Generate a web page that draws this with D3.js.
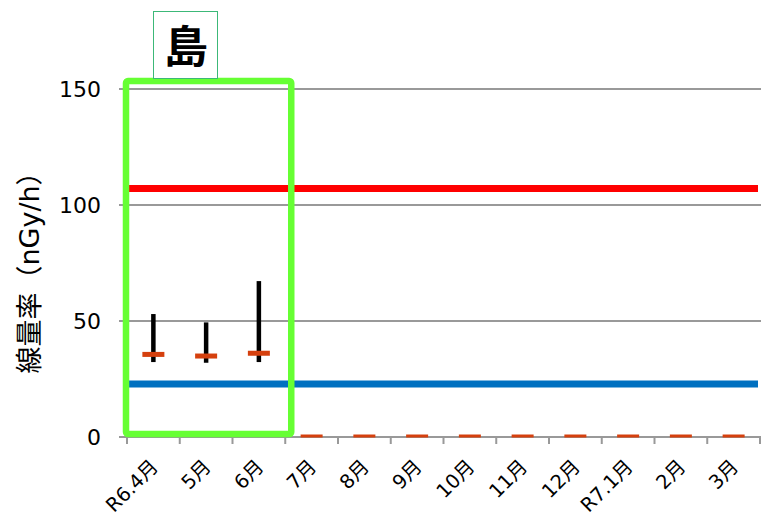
<!DOCTYPE html>
<html><head><meta charset="utf-8">
<script src="https://cdn.jsdelivr.net/npm/d3@7"></script>
<style>
html,body{margin:0;padding:0;background:#fff;}
svg{display:block;}
text{font-family:"DejaVu Sans","Noto Sans CJK JP",sans-serif;fill:#000;}
</style></head>
<body><svg id="chart" width="761" height="522"></svg>
<script>
const categories = ["R6.4月","5月","6月","7月","8月","9月","10月","11月","12月","R7.1月","2月","3月"];
const meanValues = [35.6, 34.9, 36.1, 0, 0, 0, 0, 0, 0, 0, 0, 0];
const maxValues  = [53, 49.4, 67.2, null, null, null, null, null, null, null, null, null];
const minValues  = [32.3, 32, 32.3, null, null, null, null, null, null, null, null, null];
const upperRef = 107.1;
const lowerRef = 22.8;
const yTicks = [0, 50, 100, 150];
const title = "島";
const yLabel = "線量率（nGy/h）";
const highlightCount = 3;

(function(){
const svg = d3.select("#chart");
const pL = 127, pR = 760, pT = 89, pB = 437;

const x = d3.scaleBand().domain(categories).range([pL, pR]).padding(0);
const y = d3.scaleLinear().domain([0, 150]).range([pB, pT]);

svg.append("defs").append("clipPath").attr("id","clip")
  .append("rect").attr("x", pL).attr("y", pT - 10).attr("width", pR - pL).attr("height", pB - pT + 10.5);

// gridlines
svg.append("g").selectAll("line").data(yTicks.filter(d => d > 0)).join("line")
  .attr("x1", pL - 8).attr("x2", 761)
  .attr("y1", d => y(d)).attr("y2", d => y(d))
  .attr("stroke", "#999").attr("stroke-width", 2);

// axes
svg.append("line").attr("x1", pL - 8).attr("x2", 761).attr("y1", y(0)).attr("y2", y(0))
  .attr("stroke", "#999").attr("stroke-width", 2);
svg.append("line").attr("x1", pL).attr("x2", pL).attr("y1", y(150)).attr("y2", y(0))
  .attr("stroke", "#999").attr("stroke-width", 2);
const boundaries = categories.map(c => x(c)).concat([pR]);
svg.append("g").selectAll("line").data(boundaries).join("line")
  .attr("x1", d => d).attr("x2", d => d).attr("y1", y(0)).attr("y2", y(0) + 7)
  .attr("stroke", "#999").attr("stroke-width", 2);

// y tick labels
svg.append("g").selectAll("text").data(yTicks).join("text")
  .attr("x", 101).attr("y", d => y(d)).attr("dy", "0.36em")
  .attr("text-anchor", "end").style("font-size", "22px").text(d => d);

// y label
svg.append("text").attr("transform", "translate(39,266) rotate(-90)")
  .attr("text-anchor", "middle").style("font-size", "27px").text(yLabel);

// x labels
svg.append("g").selectAll("text").data(categories).join("text")
  .attr("transform", d => `translate(${x(d) + x.bandwidth()/2 + 6},468) rotate(-45)`)
  .attr("text-anchor", "end").style("font-size", "19.5px").text(d => d);

// reference lines
svg.append("line").attr("x1", pL).attr("x2", 758).attr("y1", y(upperRef)).attr("y2", y(upperRef))
  .attr("stroke", "#ff0000").attr("stroke-width", 7);
svg.append("line").attr("x1", pL).attr("x2", 758).attr("y1", y(lowerRef)).attr("y2", y(lowerRef))
  .attr("stroke", "#0070c0").attr("stroke-width", 7);

// range bars
const rangeData = categories.map((c, i) => ({c, min: minValues[i], max: maxValues[i]})).filter(d => d.min != null);
svg.append("g").selectAll("line").data(rangeData).join("line")
  .attr("x1", d => x(d.c) + x.bandwidth()/2).attr("x2", d => x(d.c) + x.bandwidth()/2)
  .attr("y1", d => y(d.max)).attr("y2", d => y(d.min))
  .attr("stroke", "#000").attr("stroke-width", 4.5);

// mean markers
svg.append("g").attr("clip-path", "url(#clip)").selectAll("rect")
  .data(categories.map((c, i) => ({c, v: meanValues[i]}))).join("rect")
  .attr("x", d => x(d.c) + x.bandwidth()/2 - 11).attr("width", 22)
  .attr("y", d => y(d.v) - 2.5).attr("height", 5)
  .attr("fill", "#d5400e");

// highlight box
const hx0 = x(categories[0]) - 1, hx1 = x(categories[highlightCount - 1]) + x.bandwidth() + 6;
svg.append("rect").attr("x", hx0).attr("y", 81).attr("width", hx1 - hx0).attr("height", 434 - 81)
  .attr("rx", 2).attr("fill", "none").attr("stroke", "#66ff33").attr("stroke-width", 6.5);

// title box
svg.append("rect").attr("x", 153.5).attr("y", 11.5).attr("width", 64).attr("height", 67)
  .attr("fill", "#fff").attr("stroke", "#3cb878").attr("stroke-width", 1);
svg.append("text").attr("x", 186).attr("y", 47).attr("dy", "0.36em")
  .attr("text-anchor", "middle").style("font-size", "44px").style("font-weight", "bold")
  .style("font-family", "'Noto Sans CJK JP'").text(title);
})();
</script></body></html>
